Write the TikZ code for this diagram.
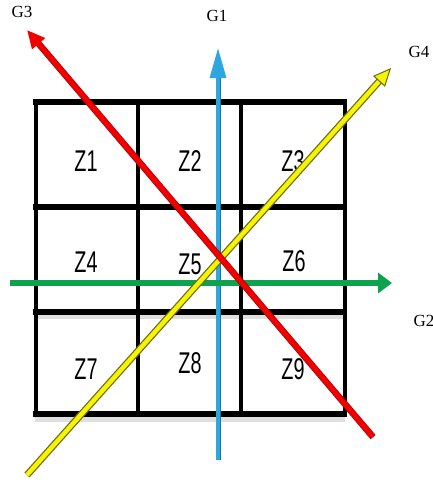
\documentclass[tikz,border=0pt]{standalone}
\usepackage{fontspec}
\setmainfont{Liberation Serif}
\newfontfamily\zfont{Liberation Sans}
\usetikzlibrary{arrows.meta,calc}
\definecolor{gblue}{HTML}{2EA6DF}
\definecolor{ggreen}{HTML}{0EA24E}
\definecolor{gred}{HTML}{F20000}
\definecolor{gyellow}{HTML}{F7F400}
\definecolor{golive}{HTML}{6E6A10}
\begin{document}
\begin{tikzpicture}[x=1pt,y=-1pt,
  zlab/.style={font=\zfont\fontsize{30}{30}\selectfont, xscale=0.66, inner sep=0pt},
  glab/.style={font=\fontsize{17}{17}\selectfont, inner sep=0pt},
  hline/.style={line width=6pt, black},
  vline/.style={line width=3.5pt, black}]
\useasboundingbox (0,0) rectangle (433,482);
% grid shadows
\fill[gray!25] (35,312) rectangle (345,319);
\fill[gray!25] (35,414) rectangle (345,422);
% grid
\draw[hline] (33,102) -- (347,102);
\draw[hline] (33,207) -- (347,207);
\draw[hline] (33,312) -- (347,312);
\draw[hline] (33,414) -- (347,414);
\draw[vline] (36,102) -- (36,414);
\draw[vline] (138,102) -- (138,414);
\draw[vline] (241,102) -- (241,414);
\draw[vline] (345,102) -- (345,414);
% labels
\node[zlab] (z1) at (86,161) {Z1};
\node[zlab] (z2) at (190,161) {Z2};
\node[zlab] (z3) at (293,161) {Z3};
\node[zlab] (z4) at (86,262) {Z4};
\node[zlab] (z5) at (190,264) {Z5};
\node[zlab] (z6) at (294,261) {Z6};
\node[zlab] (z7) at (86,369) {Z7};
\node[zlab] (z8) at (190,363) {Z8};
\node[zlab] (z9) at (293,369) {Z9};
% arrow endpoints
\coordinate (b0) at (218,460);
\coordinate (b1) at (218,48);
\coordinate (g0) at (10,283);
\coordinate (g1) at (392,283);
\coordinate (r0) at (373,437);
\coordinate (r1) at (27,30);
\coordinate (y0) at (27,475);
\coordinate (y1) at (391,68);
% G1 blue
\draw[gblue!70!black, line width=5pt] (b0) -- ($(b1)+(0,25)$);
\draw[gblue, line width=3.2pt, -{Triangle[length=30pt,width=16pt]}] (b0) -- (b1);
% G2 green
\draw[ggreen, line width=6.5pt, -{Triangle[length=14pt,width=20pt]}] (g0) -- (g1);
% G4 yellow
\draw[golive, line width=7pt, shorten >=12pt] (y0) -- (y1);
\draw[gyellow, line width=4.5pt, -{Triangle[length=18pt,width=16pt,fill=gyellow,color=golive,line width=1pt]}] (y0) -- (y1);
% G3 red
\draw[gred!70!black, line width=6.5pt, shorten >=12pt] (r0) -- (r1);
\draw[gred, line width=5pt, -{Triangle[length=18pt,width=16pt]}] (r0) -- (r1);
% G labels
\node[glab] (G1) at (217,16) {G1};
\node[glab] (G2) at (424,321) {G2};
\node[glab] (G3) at (22,12) {G3};
\node[glab] (G4) at (419,52) {G4};
\end{tikzpicture}
\end{document}
